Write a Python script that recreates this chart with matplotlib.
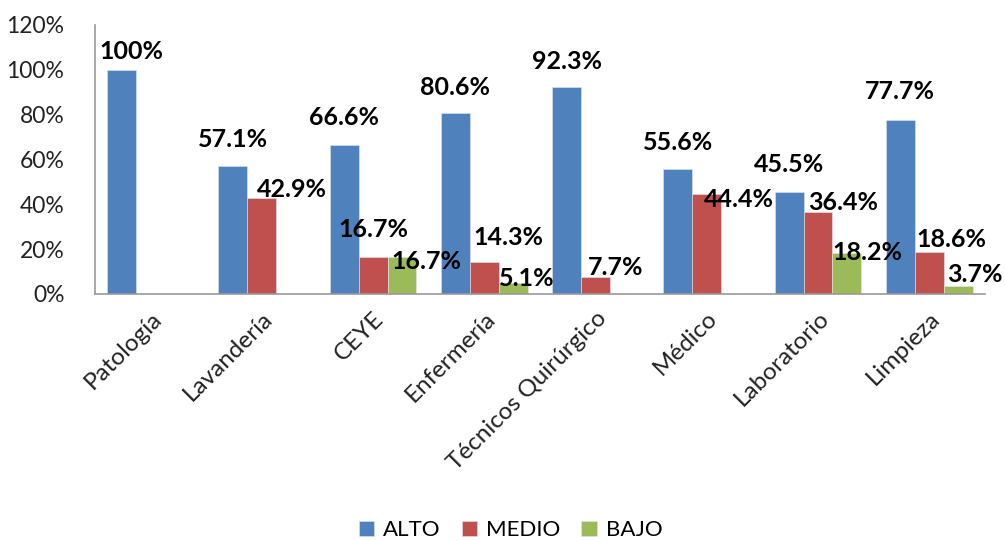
import numpy as np
import matplotlib.pyplot as plt
from matplotlib.ticker import PercentFormatter

categorias = ['Patología', 'Lavandería', 'CEYE', 'Enfermería', 'Técnicos Quirúrgico',
              'Médico', 'Laboratorio', 'Limpieza']
alto = [100, 57.1, 66.6, 80.6, 92.3, 55.6, 45.5, 77.7]
medio = [0, 42.9, 16.7, 14.3, 7.7, 44.4, 36.4, 18.6]
bajo = [0, 0, 16.7, 5.1, 0, 0, 18.2, 3.7]
series = ['ALTO', 'MEDIO', 'BAJO']
colores = ['#4F81BD', '#C0504D', '#9BBB59']

# label offsets in pixels (dx, dy of label centre from bar top centre), as Excel placed them
off_alto = [(10, 18), (0, 26), (0, 27), (0, 26), (0, 26), (0, 27), (0, 27), (0, 28)]
off_medio = [None, (30, 8), (0, 27), (24, 24), (20, 9), (32, -5), (25, 10), (22, 13)]
off_bajo = [None, None, (24, -5), (13, 4), None, None, (20, 1), (17, 11)]

plt.rcParams['font.family'] = ['Lato', 'DejaVu Sans']

fig = plt.figure(figsize=(10.05, 5.41), dpi=100)
ax = fig.add_axes([0.0945, 0.4566, 0.8855, 0.4972])

x = np.arange(len(categorias))
w = 0.26
datos = [alto, medio, bajo]
offs = [off_alto, off_medio, off_bajo]
for k, (vals, col, nom) in enumerate(zip(datos, colores, series)):
    xs = x + (k - 1) * w
    ax.bar(xs, vals, w, color=col, label=nom, edgecolor='#dfe6f0', linewidth=0.4, zorder=2)
    for xi, v, o in zip(xs, vals, offs[k]):
        if v == 0 or o is None:
            continue
        txt = '100%' if v == 100 else f'{v:.1f}%'
        ax.annotate(txt, (xi, v), xytext=o, textcoords='offset pixels',
                    ha='center', va='center', fontsize=18, fontweight='bold', color='black',
                    zorder=3)

ax.set_xlim(-0.5, len(categorias) - 0.5)
ax.set_ylim(0, 120)
ax.set_yticks(np.arange(0, 121, 20))
ax.yaxis.set_major_formatter(PercentFormatter(decimals=0))
ax.set_xticks(x)
ax.set_xticklabels(categorias, rotation=45, ha='right', va='top', rotation_mode='anchor')
ax.tick_params(axis='both', length=0, colors='#222222')
ax.tick_params(axis='x', pad=10, labelsize=17.5)
ax.tick_params(axis='y', pad=22, labelsize=16.5)
for lbl in ax.get_yticklabels():
    lbl.set_horizontalalignment('right')

for s in ['top', 'right']:
    ax.spines[s].set_visible(False)
for s in ['left', 'bottom']:
    ax.spines[s].set_color('#999999')
    ax.spines[s].set_linewidth(1.2)

fig.legend(loc='center', bbox_to_anchor=(0.508, 0.02), ncol=3, frameon=False,
           fontsize=16, handlelength=0.7, handleheight=0.7, handletextpad=0.4,
           columnspacing=0.95)

fig.savefig('out.png', dpi=100)
